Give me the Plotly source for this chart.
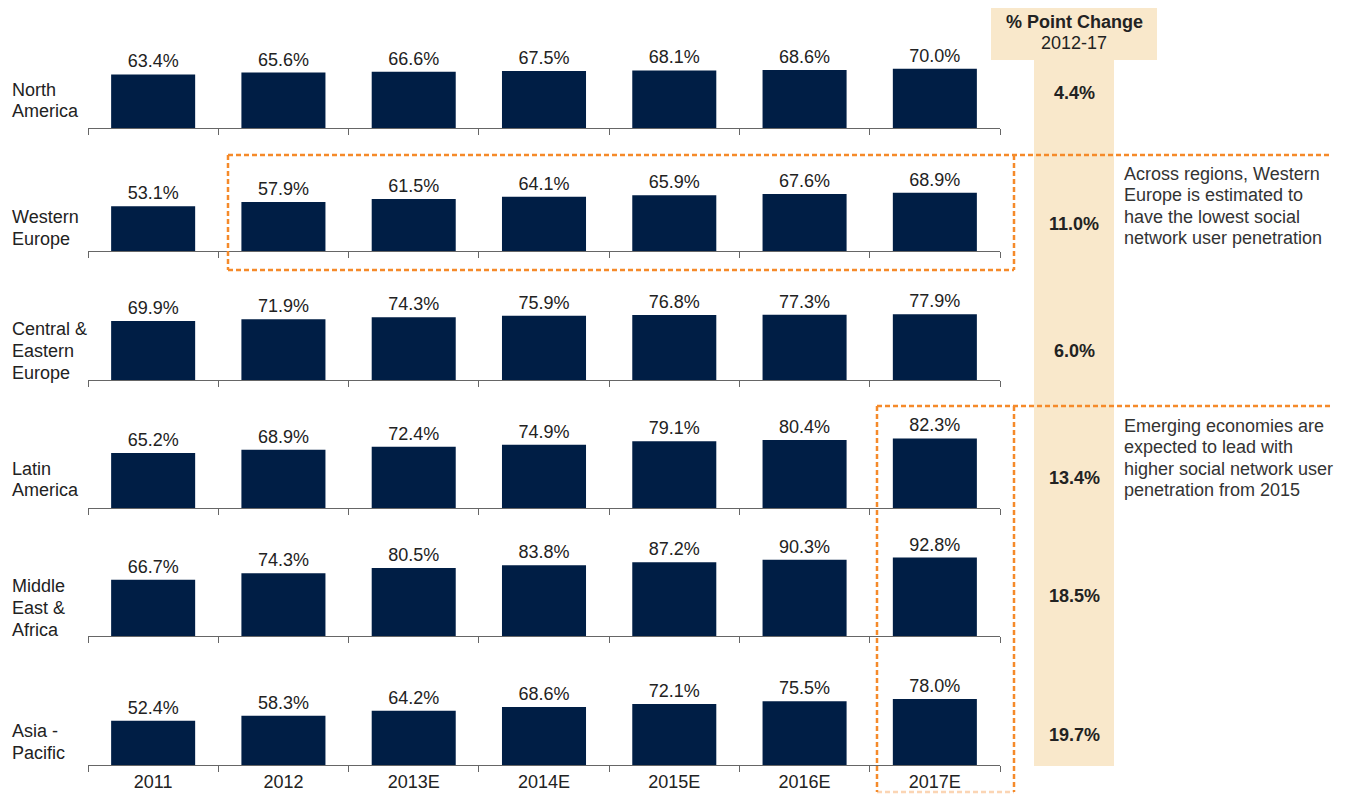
import plotly.graph_objects as go

# ---------------- data ----------------
years = ["2011", "2012", "2013E", "2014E", "2015E", "2016E", "2017E"]
region_labels = [
    ["North", "America"],
    ["Western", "Europe"],
    ["Central &", "Eastern", "Europe"],
    ["Latin", "America"],
    ["Middle", "East &", "Africa"],
    ["Asia -", "Pacific"],
]
north_america = [63.4, 65.6, 66.6, 67.5, 68.1, 68.6, 70.0]
western_europe = [53.1, 57.9, 61.5, 64.1, 65.9, 67.6, 68.9]
central_eastern_europe = [69.9, 71.9, 74.3, 75.9, 76.8, 77.3, 77.9]
latin_america = [65.2, 68.9, 72.4, 74.9, 79.1, 80.4, 82.3]
middle_east_africa = [66.7, 74.3, 80.5, 83.8, 87.2, 90.3, 92.8]
asia_pacific = [52.4, 58.3, 64.2, 68.6, 72.1, 75.5, 78.0]
series = [north_america, western_europe, central_eastern_europe,
          latin_america, middle_east_africa, asia_pacific]
point_change = [4.4, 11.0, 6.0, 13.4, 18.5, 19.7]
header_lines = ["% Point Change", "2012-17"]
note_western = ["Across regions, Western", "Europe is estimated to",
                "have the lowest social", "network user penetration"]
note_emerging = ["Emerging economies are", "expected to lead with",
                 "higher social network user", "penetration from 2015"]

# ---------------- layout geometry (reference pixels) ----------------
PAGE_OFF = 8                      # default body margin of the html page
W, H = 1345 - PAGE_OFF, 794 - PAGE_OFF
PLOT_X0, PLOT_X1 = 88, 1000       # reference pixels
BOTTOM_BASE = 765
L = PLOT_X0 - PAGE_OFF
R = W - (PLOT_X1 - PAGE_OFF)
T = 0
B = H - (BOTTOM_BASE - PAGE_OFF)
PW = PLOT_X1 - PLOT_X0
PH = BOTTOM_BASE - PAGE_OFF - T

baselines = [128, 251, 380, 508, 636, 765]
row_px = 110
px_per_pct = 0.845
yr_max = row_px / px_per_pct

label_centers = [100.5, 228, 350.5, 479.5, 608, 741.5]
change_centers = [93, 224, 351, 478, 596, 735]

FONT = "Liberation Sans, Arial, Helvetica, sans-serif"
NAVY = "#001E45"
BEIGE = "#F9E8CB"
ORANGE = "#F58A2A"
TXT = "#222222"


def px_x(px):
    return (px - PLOT_X0) / PW


def px_y(py):
    return (BOTTOM_BASE - py) / PH


fig = go.Figure()
layout_axes = {}
for i, vals in enumerate(series):
    n = i + 1
    xa = "x" if n == 1 else f"x{n}"
    ya = "y" if n == 1 else f"y{n}"
    fig.add_trace(go.Bar(
        x=years, y=vals, xaxis=xa, yaxis=ya,
        marker=dict(color=NAVY, line=dict(width=0)),
        width=0.645,
        text=[f"{v:.1f}%" for v in vals],
        textposition="outside",
        textfont=dict(size=18, color=TXT, family=FONT),
        cliponaxis=False,
        hoverinfo="skip",
        showlegend=False,
    ))
    base = baselines[i]
    d0 = px_y(base)
    d1 = px_y(base - row_px)
    xkey = "xaxis" if n == 1 else f"xaxis{n}"
    ykey = "yaxis" if n == 1 else f"yaxis{n}"
    layout_axes[xkey] = dict(
        domain=[0, 1], anchor=ya, type="category",
        categoryorder="array", categoryarray=years,
        showline=True, linecolor="#666666", linewidth=1,
        ticks="outside", tickson="boundaries", ticklen=6,
        tickcolor="#666666", tickwidth=1,
        showgrid=False, zeroline=False,
        showticklabels=(n == len(series)),
        tickfont=dict(size=18, color=TXT, family=FONT),
        fixedrange=True,
    )
    if n > 1:
        layout_axes[xkey]["matches"] = "x"
    layout_axes[ykey] = dict(
        domain=[d0, min(d1, 1.0)], anchor=xa, range=[0, yr_max],
        visible=False, fixedrange=True,
    )

annotations = []


def add_lines(lines, x_px, center_py, spacing, xanchor, bold=False, color=TXT):
    n = len(lines)
    for k, line in enumerate(lines):
        py = center_py + (k - (n - 1) / 2) * spacing
        annotations.append(dict(
            x=px_x(x_px), y=px_y(py), xref="paper", yref="paper",
            text=f"<b>{line}</b>" if bold else line,
            showarrow=False, xanchor=xanchor, yanchor="middle",
            font=dict(size=18, color=color, family=FONT),
        ))


for i, lines in enumerate(region_labels):
    add_lines(lines, 10, label_centers[i], 22, "left")

for i, v in enumerate(point_change):
    add_lines([f"{v:.1f}%"], 1074, change_centers[i], 22, "center", bold=True)

add_lines([f"<b>{header_lines[0]}</b>"], 1074, 22, 0, "center")
add_lines([header_lines[1]], 1074, 43, 0, "center")

add_lines(note_western, 1122, 206, 21.3, "left", color="#333333")
add_lines(note_emerging, 1122, 458, 21.3, "left", color="#333333")

shapes = []


def rect(x0, y0, x1, y1, color):
    shapes.append(dict(type="rect", xref="paper", yref="paper",
                       x0=px_x(x0), x1=px_x(x1), y0=px_y(y1), y1=px_y(y0),
                       fillcolor=color, line=dict(width=0), layer="below"))


def dline(x0, y0, x1, y1, color=ORANGE, opacity=1.0):
    shapes.append(dict(type="line", xref="paper", yref="paper",
                       x0=px_x(x0), x1=px_x(x1), y0=px_y(y0), y1=px_y(y1),
                       line=dict(color=color, width=2.5, dash="5px,3px"),
                       opacity=opacity, layer="above"))


rect(1034, 60, 1114, 766, BEIGE)
rect(991, 5, 1157, 60, BEIGE)

# Western Europe callout
dline(228, 155, 1330, 155)
dline(228, 155, 228, 270)
dline(1014, 155, 1014, 270)
dline(228, 270, 1014, 270)
# Emerging economies callout
dline(877, 406, 1330, 406)
dline(877, 406, 877, 792)
dline(1014, 406, 1014, 792)
dline(877, 792, 1014, 792, opacity=0.35)

fig.update_layout(
    width=W, height=H,
    margin=dict(l=L, r=R, t=T, b=B, autoexpand=False),
    paper_bgcolor="white", plot_bgcolor="white",
    font=dict(family=FONT, size=18, color=TXT),
    annotations=annotations,
    shapes=shapes,
    **layout_axes,
)

fig.write_html("out.html")
